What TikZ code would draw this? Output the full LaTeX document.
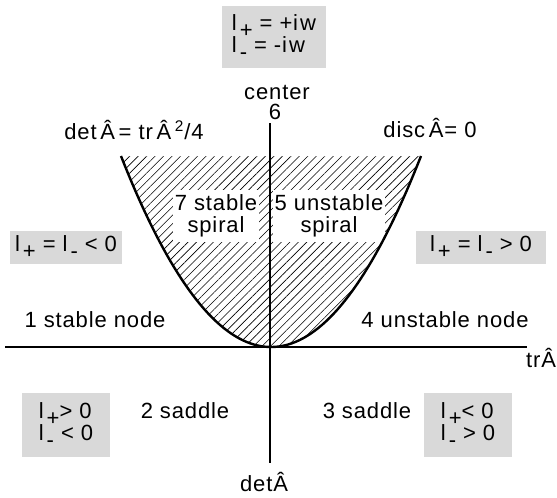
\documentclass[tikz,border=0pt]{standalone}
\usepackage{fontspec}
\setmainfont{Liberation Sans}[LetterSpace=4]
\usetikzlibrary{patterns.meta}
\definecolor{boxgray}{RGB}{217,217,217}
\newcommand{\lsub}[1]{l\kern1.5pt\raisebox{-0.55ex}{#1}}

\begin{document}
\begin{tikzpicture}[x=0.5pt, y=-0.5pt, font=\fontsize{11}{13}\selectfont,
    graybox/.style={fill=boxgray, inner sep=0pt, align=left},
    spiralbox/.style={fill=white, inner sep=0pt, align=center},
    txt/.style={inner sep=0pt},
    axis/.style={line width=0.6pt},
    curve/.style={line width=1.2pt}
]
    \useasboundingbox (0,0) rectangle (557,498);

    % spiral region (hatched)
    \fill[pattern={Lines[angle=45, distance=3pt, line width=0.3pt]}]
        plot[domain=-150:150, samples=80] ({271+\x},{347-191*(\x/150)^2}) -- cycle;
    \node[spiralbox, minimum width=43pt, minimum height=26pt] (ss) at (216,216) {7 stable\\[-2pt]spiral};
    \node[spiralbox, minimum width=56pt, minimum height=26pt] (us) at (329,216) {5 unstable\\[-2pt]spiral};

    % boundary det = tr^2/4
    \draw[curve] plot[domain=-150:150, samples=80] ({271+\x},{347-191*(\x/150)^2});

    % axes
    \coordinate (ytop) at (270,123);
    \coordinate (ybot) at (270,463);
    \coordinate (xleft) at (5,347);
    \coordinate (xright) at (527,347);
    \draw[axis] (ytop) -- (ybot);
    \draw[axis] (xleft) -- (xright);
    \node[txt] (tr) at (541,358) {trÂ};
    \node[txt] (det) at (264,482) {detÂ};

    % eigenvalue boxes
    \node[graybox, minimum width=52pt, minimum height=31pt] (imag) at (274,37)
        {\lsub{+} = +i\kern1pt w\\[-2pt]\lsub{-} = -i\kern1pt w};
    \node[graybox, minimum width=56pt, minimum height=16.5pt, align=center] (neg) at (66,247)
        {\lsub{+} = \lsub{-} < 0};
    \node[graybox, minimum width=65pt, minimum height=16.5pt, align=center] (pos) at (481,247)
        {\lsub{+} = \lsub{-} > 0};
    \node[graybox, minimum width=44pt, minimum height=32pt] (sadl) at (66,425)
        {\lsub{+}> 0\\[-2pt]\lsub{-} < 0};
    \node[graybox, minimum width=44pt, minimum height=32pt] (sadr) at (468,425)
        {\lsub{+}< 0\\[-2pt]\lsub{-} > 0};

    % region labels
    \node[txt] (cen) at (277,92) {center};
    \node[txt] (six) at (275,112) {6};
    \node[txt] (para) at (134,130) {det\,Â\,= tr\,Â\,\textsuperscript{2}/4};
    \node[txt] (disc) at (430,128) {disc\,Â= 0};
    \node[txt] (sn) at (95,320) {1 stable node};
    \node[txt] (un) at (445,320) {4 unstable node};
    \node[txt] (s2) at (185,411) {2 saddle};
    \node[txt] (s3) at (367,411) {3 saddle};
\end{tikzpicture}
\end{document}
